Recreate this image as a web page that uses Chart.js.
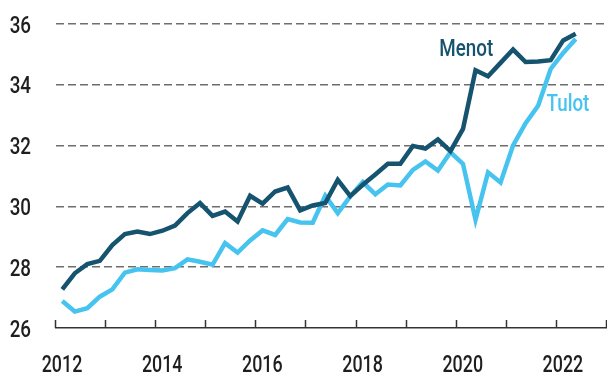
<!DOCTYPE html>
<html>
<head>
<meta charset="utf-8">
<script src="https://cdn.jsdelivr.net/npm/chart.js@4"></script>
<style>
  html, body { margin: 0; padding: 0; background: #fff; }
  #wrap { width: 607px; height: 376px; position: relative; }
</style>
</head>
<body>
<div id="wrap"><canvas id="budgetChart"></canvas></div>
<script>
// quarterly series, 2012Q1 .. 2022Q2
const quarters = [];
for (let y = 2012; y <= 2022; y++) {
  for (let q = 1; q <= 4; q++) {
    if (y === 2022 && q > 2) break;
    quarters.push(y + "Q" + q);
  }
}
const menot = [27.27, 27.80, 28.10, 28.21, 28.73, 29.09, 29.17, 29.09, 29.20, 29.37,
  29.78, 30.11, 29.69, 29.83, 29.50, 30.35, 30.09, 30.49, 30.62, 29.87,
  30.03, 30.11, 30.87, 30.34, 30.71, 31.05, 31.40, 31.40, 31.99, 31.90,
  32.20, 31.82, 32.55, 34.48, 34.28, 34.72, 35.16, 34.75, 34.77, 34.81,
  35.46, 35.68];
const tulot = [26.89, 26.54, 26.65, 27.03, 27.27, 27.82, 27.93, 27.91, 27.89, 27.97,
  28.26, 28.18, 28.08, 28.79, 28.48, 28.88, 29.21, 29.06, 29.58, 29.47,
  29.46, 30.35, 29.78, 30.33, 30.80, 30.40, 30.72, 30.69, 31.20, 31.48,
  31.18, 31.78, 31.40, 29.56, 31.12, 30.79, 32.01, 32.74, 33.31, 34.52,
  35.05, 35.51];
const yearTicks = [2012, 2014, 2016, 2018, 2020, 2022];
const valueTicks = [26, 28, 30, 32, 34, 36];

const darkBlue = "#15536f";
const lightBlue = "#47c3f0";
const font = "500 23.5px Roboto, 'Liberation Sans', sans-serif";

// quarter label -> mid-quarter position on the year axis
const qx = (s) => Number(s.slice(0, 4)) + (Number(s.slice(5)) - 0.5) / 4;
const toPoints = (arr) => arr.map((v, i) => ({ x: qx(quarters[i]), y: v }));

// condensed text: squeeze horizontally around the anchor point
function narrowText(ctx, text, x, y, align, squeeze) {
  ctx.save();
  ctx.translate(x, y);
  ctx.scale(squeeze, 1);
  ctx.textAlign = align;
  ctx.fillText(text, 0, 0);
  ctx.restore();
}

// short tick marks pointing up from the x axis, plus the axis labels
const axisText = {
  id: "axisText",
  afterDraw(chart) {
    const { ctx, scales, chartArea } = chart;
    const xs = scales.x, ys = scales.y, bottom = chartArea.bottom;
    ctx.save();
    ctx.strokeStyle = "#333";
    ctx.lineWidth = 1.5;
    for (let yr = 2012; yr <= 2023; yr++) {
      const px = Math.round(xs.getPixelForValue(yr)) - 0.5;
      ctx.beginPath();
      ctx.moveTo(px, bottom);
      ctx.lineTo(px, bottom - 8);
      ctx.stroke();
    }
    ctx.fillStyle = "#1e1e1e";
    ctx.font = font;
    ctx.textBaseline = "alphabetic";
    yearTicks.forEach((yr) => {
      narrowText(ctx, String(yr), xs.getPixelForValue(yr) + 6, bottom + 44, "center", 0.76);
    });
    valueTicks.forEach((v) => {
      narrowText(ctx, String(v), 31, ys.getPixelForValue(v) + 8.5, "right", 0.8);
    });
    ctx.restore();
  },
};

// series names written next to the lines
const seriesNames = {
  id: "seriesNames",
  afterDatasetsDraw(chart) {
    const { ctx, scales } = chart;
    ctx.save();
    ctx.font = font;
    ctx.textBaseline = "alphabetic";
    ctx.fillStyle = darkBlue;
    narrowText(ctx, "Menot", scales.x.getPixelForValue(2020.19), scales.y.getPixelForValue(34.95), "center", 0.8);
    ctx.fillStyle = lightBlue;
    narrowText(ctx, "Tulot", scales.x.getPixelForValue(2022.22), scales.y.getPixelForValue(33.14), "center", 0.8);
    ctx.restore();
  },
};

new Chart(document.getElementById("budgetChart").getContext("2d"), {
  type: "line",
  data: {
    datasets: [
      {
        label: "Menot",
        data: toPoints(menot),
        borderColor: darkBlue,
        borderWidth: 4.5,
        pointRadius: 0,
        tension: 0,
      },
      {
        label: "Tulot",
        data: toPoints(tulot),
        borderColor: lightBlue,
        borderWidth: 4.5,
        pointRadius: 0,
        tension: 0,
      },
    ],
  },
  options: {
    responsive: true,
    maintainAspectRatio: false,
    animation: false,
    layout: { padding: { top: 24, right: 0, left: 0, bottom: 0 } },
    plugins: {
      legend: { display: false },
      tooltip: { enabled: false },
    },
    scales: {
      x: {
        type: "linear",
        min: 2012,
        max: 2023,
        afterBuildTicks(scale) {
          scale.ticks = yearTicks.map((v) => ({ value: v }));
        },
        afterFit(scale) { scale.height = 48; },
        grid: { display: false, drawTicks: false },
        border: { display: true, color: "#333", width: 1.5 },
        ticks: { display: false },
      },
      y: {
        min: 26,
        max: 36,
        afterFit(scale) { scale.width = 56; },
        ticks: { stepSize: 2, display: false },
        grid: {
          color: (c) => (c.tick.value === 26 ? "rgba(0,0,0,0)" : "#6e6e6e"),
          lineWidth: 1.5,
          drawTicks: false,
        },
        border: { display: false, dash: [8, 4] },
      },
    },
  },
  plugins: [axisText, seriesNames],
});
</script>
</body>
</html>
